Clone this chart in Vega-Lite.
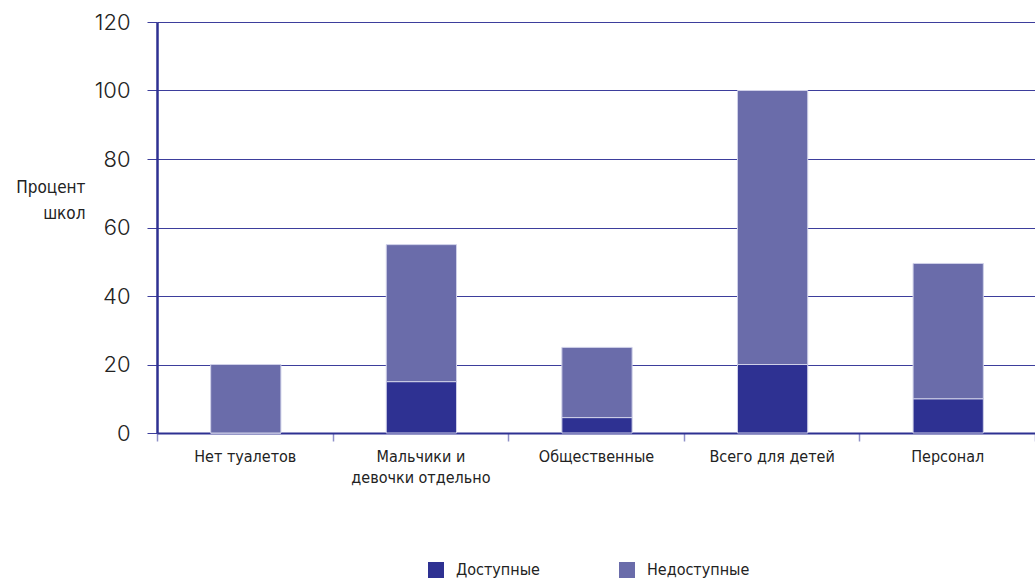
{
  "$schema": "https://vega.github.io/schema/vega-lite/v6.json",
  "width": 878,
  "height": 411,
  "autosize": {"type": "none"},
  "padding": {"left": 157, "top": 22, "right": 0, "bottom": 146},
  "background": "white",
  "config": {"view": {"stroke": null}},
  "data": {"values": [
    {"category": "Нет туалетов", "status": "Доступные", "value": 0, "ord": 1},
    {"category": "Нет туалетов", "status": "Недоступные", "value": 20, "ord": 2},
    {"category": "Мальчики и девочки отдельно", "status": "Доступные", "value": 15, "ord": 1},
    {"category": "Мальчики и девочки отдельно", "status": "Недоступные", "value": 40, "ord": 2},
    {"category": "Общественные", "status": "Доступные", "value": 4.5, "ord": 1},
    {"category": "Общественные", "status": "Недоступные", "value": 20.5, "ord": 2},
    {"category": "Всего для детей", "status": "Доступные", "value": 20, "ord": 1},
    {"category": "Всего для детей", "status": "Недоступные", "value": 80, "ord": 2},
    {"category": "Персонал", "status": "Доступные", "value": 10, "ord": 1},
    {"category": "Персонал", "status": "Недоступные", "value": 39.5, "ord": 2}
  ]},
  "mark": {"type": "bar", "stroke": "#cfd0e8", "strokeWidth": 1, "width": {"band": 0.4}, "xOffset": 1},
  "encoding": {
    "x": {
      "field": "category", "type": "nominal", "sort": null,
      "scale": {"paddingInner": 0, "paddingOuter": 0},
      "axis": {
        "title": null, "labelAngle": 0, "tickBand": "extent",
        "domainColor": "#2e3192", "domainWidth": 2,
        "tickColor": "#8f90c8", "tickSize": 8, "tickWidth": 1.5,
        "labelFont": "DejaVu Sans Condensed", "labelFontSize": 16, "labelColor": "#222222",
        "labelPadding": 7, "labelLineHeight": 21,
        "labelExpr": "datum.label == 'Мальчики и девочки отдельно' ? ['Мальчики и', 'девочки отдельно'] : datum.label"
      }
    },
    "y": {
      "field": "value", "type": "quantitative", "aggregate": "sum",
      "scale": {"domain": [0, 120]},
      "axis": {
        "values": [0, 20, 40, 60, 80, 100, 120],
        "title": ["Процент", "школ"], "titleAngle": 0, "titleAlign": "right",
        "titleX": -72, "titleY": 165, "titleBaseline": "middle",
        "titleFont": "DejaVu Sans Condensed", "titleFontSize": 17, "titleFontWeight": "normal",
        "titleColor": "#222222", "titleLineHeight": 26,
        "domainColor": "#2e3192", "domainWidth": 2.5,
        "grid": true, "gridColor": "#3d3e9c", "gridWidth": 1,
        "tickColor": "#3d3e9c", "tickSize": 10,
        "labelFont": "Inter", "labelFontSize": 22, "labelFontWeight": 300,
        "labelColor": "#222222", "labelPadding": 17
      }
    },
    "color": {
      "field": "status", "type": "nominal",
      "scale": {"domain": ["Доступные", "Недоступные"], "range": ["#2e3192", "#6a6caa"]},
      "legend": {
        "title": null, "orient": "none", "direction": "horizontal",
        "legendX": 271, "legendY": 540,
        "symbolType": "square", "symbolSize": 256, "symbolStrokeWidth": 0,
        "labelFont": "DejaVu Sans Condensed", "labelFontSize": 16, "labelColor": "#222222",
        "columnPadding": 79, "labelOffset": 12
      }
    },
    "order": {"field": "ord", "type": "quantitative"}
  }
}
